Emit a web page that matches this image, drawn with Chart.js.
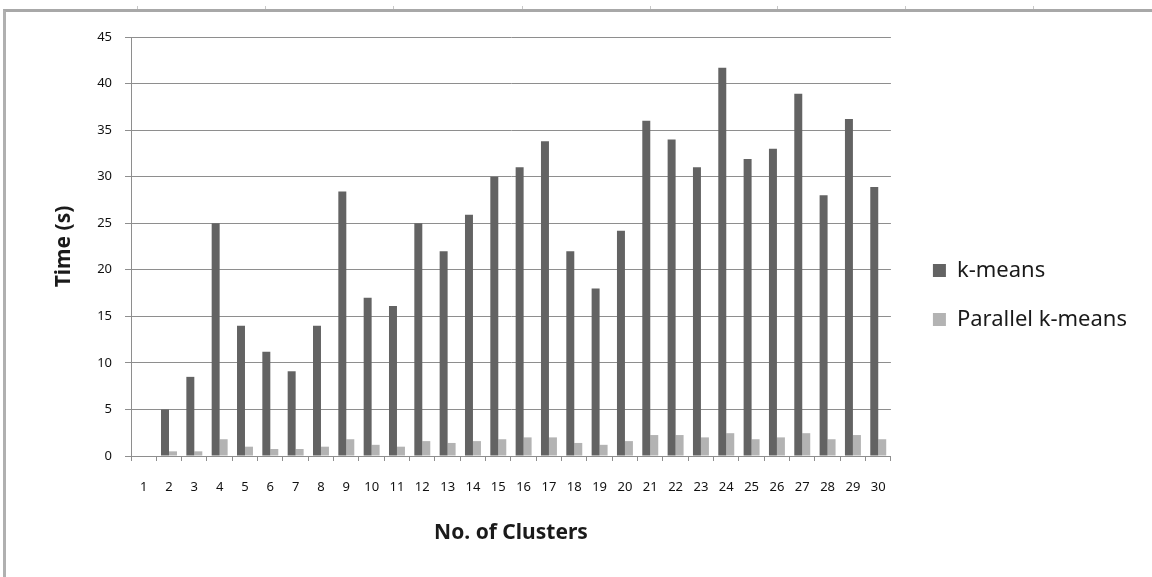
<!DOCTYPE html>
<html>
<head>
<meta charset="utf-8">
<script src="https://cdn.jsdelivr.net/npm/chart.js@4"></script>
<style>
  html, body { margin: 0; padding: 0; background: #fff; }
  #frame {
    position: absolute; left: 3px; top: 9px;
    width: 1149px; height: 568px;
    border-top: 3px solid #a8a8a8; border-left: 3px solid #b0b0b0;
  }
  #wrap { position: absolute; left: 0; top: 0; width: 1146px; height: 565px; }
  .rule { position: absolute; top: 6px; width: 1px; height: 3px; background: #c8c8c8; }
</style>
</head>
<body>
<div class="rule" style="left:137px"></div>
<div class="rule" style="left:265px"></div>
<div class="rule" style="left:393px"></div>
<div class="rule" style="left:522px"></div>
<div class="rule" style="left:650px"></div>
<div class="rule" style="left:777px"></div>
<div class="rule" style="left:905px"></div>
<div class="rule" style="left:1033px"></div>
<div id="frame"><div id="wrap"><canvas id="clusterChart"></canvas></div></div>
<script>
const clusters = ['1','2','3','4','5','6','7','8','9','10','11','12','13','14','15',
                  '16','17','18','19','20','21','22','23','24','25','26','27','28','29','30'];
const kmeansTimes = [0, 5, 8.5, 25, 14, 11.2, 9.1, 14, 28.4, 17, 16.1, 25, 22, 25.9, 30,
                     31, 33.8, 22, 18, 24.2, 36, 34, 31, 41.7, 31.9, 33, 38.9, 28, 36.2, 28.9];
const parallelTimes = [0, 0.5, 0.5, 1.8, 1.0, 0.75, 0.75, 1.0, 1.8, 1.2, 1.0, 1.6, 1.4, 1.6, 1.8,
                       2.0, 2.0, 1.4, 1.2, 1.6, 2.25, 2.25, 2.0, 2.45, 1.8, 2.0, 2.45, 1.8, 2.25, 1.8];
const yTicks = { min: 0, max: 45, step: 5 };

const FONT = "'Noto Sans', sans-serif";
const GRID = '#8e8e8e';
const ctx = document.getElementById('clusterChart').getContext('2d');

// nudges the legend right of the plot and up a little, like the original
const legendShift = {
    id: 'legendShift',
    afterLayout(chart) {
        chart.legend.left += 15;
        chart.legend.right += 15;
        chart.legend.top -= 12;
        chart.legend.bottom -= 12;
    }
};

const clusterChart = new Chart(ctx, {
    type: 'bar',
    data: {
        labels: clusters,
        datasets: [
            {
                label: 'k-means',
                data: kmeansTimes,
                backgroundColor: '#636363',
                categoryPercentage: 0.63,
                barPercentage: 1,
            },
            {
                label: 'Parallel k-means',
                data: parallelTimes,
                backgroundColor: '#b3b3b3',
                categoryPercentage: 0.63,
                barPercentage: 1,
            },
        ],
    },
    options: {
        responsive: true,
        maintainAspectRatio: false,
        animation: false,
        layout: { padding: { left: 0, top: 25, right: 30, bottom: 0 } },
        plugins: {
            tooltip: { enabled: false },
            legend: {
                position: 'right',
                align: 'center',
                labels: {
                    boxWidth: 13,
                    boxHeight: 13,
                    padding: 27,
                    color: '#1a1a1a',
                    font: { family: FONT, size: 22 },
                },
            },
        },
        scales: {
            x: {
                afterFit(scale) { scale.height = 121; },
                grid: { drawOnChartArea: false, drawTicks: true, tickLength: 5, color: GRID, offset: true },
                border: { display: true, color: GRID, width: 1 },
                ticks: { color: '#111', padding: 18, maxRotation: 0, autoSkip: false, font: { family: FONT, size: 13 } },
                title: {
                    display: true,
                    text: 'No. of Clusters',
                    color: '#1a1a1a',
                    font: { family: FONT, size: 21, weight: 'bold' },
                    padding: { top: 0, bottom: 31 },
                },
            },
            y: {
                min: yTicks.min,
                max: yTicks.max,
                afterFit(scale) { scale.width = 125; },
                grid: { color: GRID, lineWidth: 1, drawTicks: true, tickLength: 6 },
                border: { display: true, color: GRID, width: 1 },
                ticks: { stepSize: yTicks.step, color: '#111', padding: 13, font: { family: FONT, size: 13 } },
                title: {
                    display: true,
                    text: 'Time (s)',
                    color: '#1a1a1a',
                    font: { family: FONT, size: 21, weight: 'bold' },
                    padding: { top: 45, bottom: 0 },
                },
            },
        },
    },
    plugins: [legendShift],
});
</script>
</body>
</html>
